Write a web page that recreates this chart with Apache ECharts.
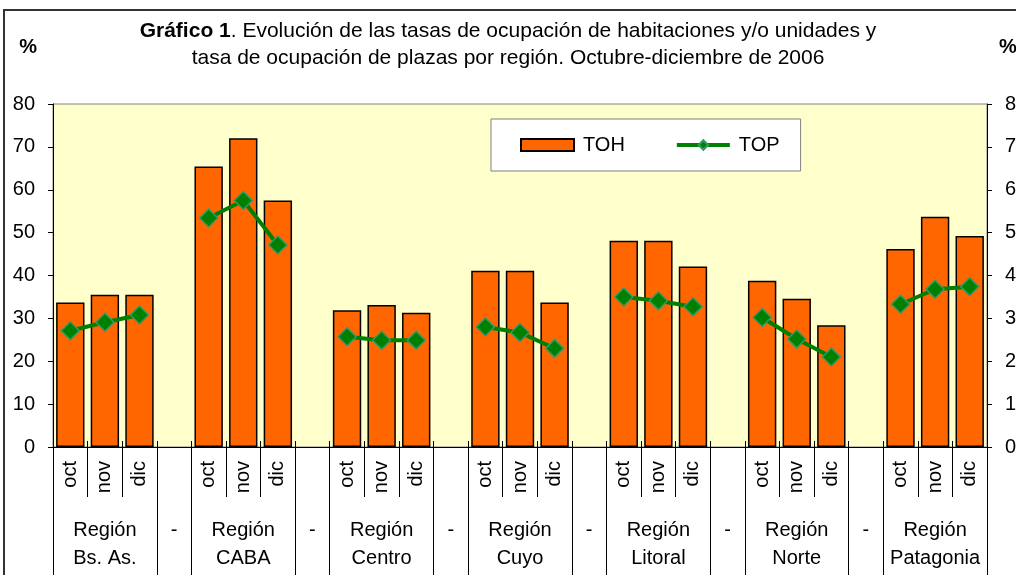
<!DOCTYPE html>
<html>
<head>
<meta charset="utf-8">
<script src="https://cdn.jsdelivr.net/npm/echarts@6/dist/echarts.min.js"></script>
<style>
  html, body { margin: 0; padding: 0; background: #fff; overflow: hidden; }
  #chart { width: 1016px; height: 575px; }
</style>
</head>
<body>
<div id="chart"></div>
<script>
// values
const regions = ['Región\nBs. As.', 'Región\nCABA', 'Región\nCentro', 'Región\nCuyo', 'Región\nLitoral', 'Región\nNorte', 'Región\nPatagonia']
const months = ['oct', 'nov', 'dic']
const tohValues = [33.7, 35.5, 35.5, 65.4, 72.0, 57.5, 31.9, 33.1, 31.3, 41.1, 41.1, 33.7, 48.1, 48.1, 42.1, 38.8, 34.6, 28.4, 46.2, 53.7, 49.2]
const topValues = [27.1, 29.1, 30.8, 53.4, 57.5, 47.1, 25.7, 24.9, 24.9, 28.0, 26.7, 23.0, 35.0, 34.1, 32.7, 30.2, 25.2, 21.0, 33.3, 36.8, 37.4]
const yTicks = [0, 10, 20, 30, 40, 50, 60, 70, 80]

// 27 slots: 3 months per region with a blank slot between regions
const monthCats = []
const regionCats = []
const tohData = []
const topData = []
regions.forEach((r, i) => {
  if (i > 0) {
    monthCats.push('')
    regionCats.push('-')
    tohData.push('-')
    topData.push('-')
  }
  months.forEach((m, j) => {
    monthCats.push(m)
    regionCats.push(j === 1 ? r : '')
    tohData.push(tohValues[i * 3 + j])
    topData.push(topValues[i * 3 + j])
  })
})

const font = "'Liberation Sans', Arial, sans-serif"

const yAxisBase = {
  type: 'value',
  min: yTicks[0],
  max: yTicks[yTicks.length - 1],
  interval: 10,
  splitLine: { show: false },
  axisLine: { show: true, lineStyle: { color: '#000', width: 1 } },
  axisTick: { show: true, length: 5, lineStyle: { color: '#000' } },
  axisLabel: { color: '#000', fontSize: 20, fontFamily: font, margin: 18 },
  name: '%',
  nameLocation: 'end',
  nameGap: 47,
  nameTextStyle: { color: '#000', fontSize: 20, fontWeight: 'bold', fontFamily: font }
}

const titleText = { color: '#000', fontSize: 21, fontWeight: 'normal', fontFamily: font }

const chart = echarts.init(document.getElementById('chart'))
chart.setOption({
  animation: false,
  textStyle: { fontFamily: font },
  title: [
    {
      left: 'center',
      top: 21,
      padding: 0,
      text: '{b|Gráfico 1}. Evolución de las tasas de ocupación de habitaciones y/o unidades y',
      textStyle: Object.assign({}, titleText, {
        rich: { b: { fontSize: 21, fontWeight: 'bold', color: '#000', fontFamily: font } }
      })
    },
    {
      left: 'center',
      top: 48,
      padding: 0,
      text: 'tasa de ocupación de plazas por región. Octubre-diciembre de 2006',
      textStyle: titleText
    }
  ],
  legend: {
    left: 491,
    top: 119,
    padding: [16, 21, 16, 29],
    backgroundColor: '#fff',
    borderColor: '#808080',
    borderWidth: 1,
    borderRadius: 0,
    itemWidth: 53,
    itemHeight: 12,
    itemGap: 50,
    lineStyle: { width: 4 },
    textStyle: { color: '#000', fontSize: 20, fontFamily: font, padding: [0, 0, 0, 4] },
    data: [{ name: 'TOH', icon: 'rect' }, { name: 'TOP' }]
  },
  grid: {
    left: 53,
    right: 29,
    top: 104,
    bottom: 128,
    outerBoundsMode: 'none',
    containLabel: false,
    show: true,
    backgroundColor: '#FFFFCC',
    borderColor: '#808080',
    borderWidth: 1
  },
  xAxis: [
    {
      type: 'category',
      data: monthCats,
      position: 'bottom',
      axisLine: { show: true, lineStyle: { color: '#000', width: 1 } },
      axisTick: { show: true, interval: 0, length: 50, lineStyle: { color: '#000' } },
      axisLabel: { interval: 0, rotate: 90, fontSize: 20, color: '#000', fontFamily: font, margin: 14 }
    },
    {
      type: 'category',
      data: regionCats,
      position: 'bottom',
      axisLine: { show: false },
      axisTick: {
        show: true,
        length: 130,
        interval: (i) => i % 4 === 0 || i % 4 === 3,
        lineStyle: { color: '#000' }
      },
      axisLabel: { interval: 0, fontSize: 20, lineHeight: 28, color: '#000', fontFamily: font, margin: 69 }
    },
    {
      // short marks crossing into the plot
      type: 'category',
      data: monthCats,
      position: 'bottom',
      axisLine: { show: false },
      axisTick: { show: true, inside: true, interval: 0, length: 6, lineStyle: { color: '#000' } },
      axisLabel: { show: false }
    }
  ],
  yAxis: [
    Object.assign({}, yAxisBase, {
      position: 'left',
      nameTextStyle: Object.assign({}, yAxisBase.nameTextStyle, { align: 'right', padding: [0, 16, 0, 0] })
    }),
    Object.assign({}, yAxisBase, {
      position: 'right',
      nameTextStyle: Object.assign({}, yAxisBase.nameTextStyle, { align: 'left', padding: [0, 0, 0, 12] })
    })
  ],
  graphic: [
    {
      type: 'rect',
      silent: true,
      z: 100,
      shape: { x: 4, y: 10, width: 1100, height: 700 },
      style: { fill: null, stroke: '#333', lineWidth: 2 }
    }
  ],
  series: [
    {
      name: 'TOH',
      type: 'bar',
      xAxisIndex: 0,
      yAxisIndex: 0,
      data: tohData,
      barCategoryGap: '18%',
      itemStyle: { color: '#FF6600', borderColor: '#000', borderWidth: 1.5 }
    },
    {
      name: 'TOP',
      type: 'line',
      xAxisIndex: 0,
      yAxisIndex: 0,
      data: topData,
      connectNulls: false,
      symbol: 'diamond',
      symbolSize: 18,
      lineStyle: { color: '#008000', width: 4 },
      itemStyle: { color: '#008000', borderColor: '#339966', borderWidth: 1.5 },
      z: 5
    }
  ]
})
</script>
</body>
</html>
